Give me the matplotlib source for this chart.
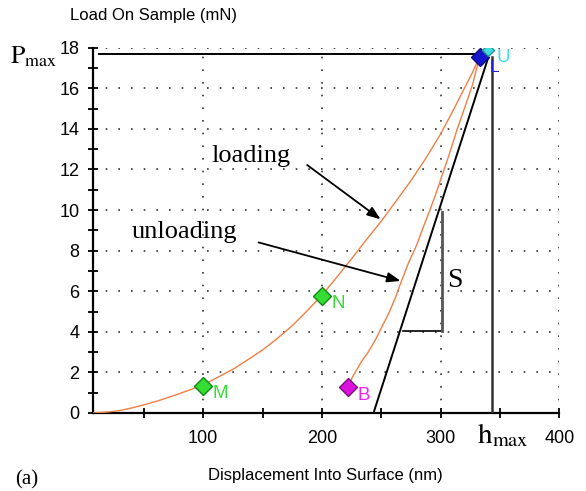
import numpy as np
import matplotlib.pyplot as plt
from matplotlib.ticker import MultipleLocator

plt.rcParams['mathtext.fontset'] = 'stix'

# loading / unloading branches (nm, mN)
loadDepth = [7, 20, 30, 40, 50, 62, 75, 87, 100, 112, 125, 137, 150, 162, 175, 187,
             200, 212, 225, 237, 250, 262, 275, 287, 300, 310, 320, 327, 333]
loadForce = [0.0, 0.05, 0.12, 0.25, 0.4, 0.6, 0.85, 1.1, 1.38, 1.75, 2.15, 2.6, 3.1, 3.65, 4.3, 5.0,
             5.8, 6.65, 7.6, 8.5, 9.45, 10.4, 11.45, 12.5, 13.75, 14.85, 16.0, 16.8, 17.6]
unloadDepth = [222, 226, 233, 239, 245, 251, 257, 262, 267, 273, 280, 285, 291, 296, 300,
               307, 314, 320, 327, 333]
unloadForce = [1.3, 1.8, 2.5, 3.0, 3.6, 4.3, 5.0, 5.7, 6.5, 7.4, 8.3, 9.1, 10.0, 10.8, 11.5,
               12.7, 14.0, 15.0, 16.2, 17.6]

# labelled test points
ptNames = ['M', 'N', 'B']
ptDepth = [100, 200, 222]
ptForce = [1.35, 5.78, 1.27]
ptFace = ['#33dd33', '#33dd33', '#dd11dd']
ptEdge = ['#118811', '#118811', '#771177']
ptText = ['#33dd33', '#33dd33', '#ee22ee']

uDepth, uForce = 333, 17.56      # blue marker 'L'
cDepth, cForce = 340, 17.9       # cyan marker 'U'

Pmax = 17.7
hmax = 343
tangentDepth = [244, 340]
tangentForce = [0.1, 17.5]
sTriDepth = [268, 301, 301]
sTriForce = [4.04, 4.04, 9.9]

fig = plt.figure(figsize=(5.86, 4.91), dpi=100)
ax = fig.add_axes([0.1582, 0.1589, 0.7964, 0.744])

ax.set_xlim(7, 400)
ax.set_ylim(0, 18)
ax.xaxis.set_major_locator(MultipleLocator(100))
ax.xaxis.set_minor_locator(MultipleLocator(50))
ax.yaxis.set_major_locator(MultipleLocator(2))
ax.yaxis.set_minor_locator(MultipleLocator(1))

for s in ['top', 'right']:
    ax.spines[s].set_visible(False)
for s in ['left', 'bottom']:
    ax.spines[s].set_linewidth(1.6)
ax.tick_params(which='both', direction='inout', length=7, width=1.3, color='black')
ax.tick_params(axis='x', pad=9)
ax.tick_params(axis='y', pad=6)
for lab in ax.get_xticklabels() + ax.get_yticklabels():
    lab.set_fontfamily('Liberation Sans')
    lab.set_fontsize(13)

ax.grid(True, which='major', color='#333333', linestyle=(0, (1, 6.6)), linewidth=1.2)
ax.set_axisbelow(True)

# curves
ax.plot(loadDepth, loadForce, color='#f07f45', lw=1.0, zorder=3)
ax.plot(unloadDepth, unloadForce, color='#f07f45', lw=1.0, zorder=3)

# Pmax / hmax guides, tangent and stiffness triangle
ax.plot([12, uDepth], [Pmax, Pmax], color='black', lw=1.4, zorder=3)
ax.plot([hmax, hmax], [0, Pmax - 0.15], color='#333333', lw=1.8, zorder=3)
ax.plot(tangentDepth, tangentForce, color='black', lw=1.4, zorder=3)
ax.plot(sTriDepth[:2], sTriForce[:2], color='black', lw=1.2, zorder=3)
ax.plot(sTriDepth[1:], sTriForce[1:], color='#555555', lw=2.0, zorder=3)

for name, x, y, fc, ec, tc in zip(ptNames, ptDepth, ptForce, ptFace, ptEdge, ptText):
    ax.plot(x, y, marker='D', ms=9.5, mfc=fc, mec=ec, mew=1.0, zorder=5)
    ax.annotate(name, (x, y), xytext=(7, -9), textcoords='offset points',
                color=tc, fontsize=13.5, family='Liberation Sans', zorder=6)

ax.plot(uDepth, uForce, marker='D', ms=9.5, mfc='#1515cc', mec='#0a0a88', zorder=5)
ax.plot(cDepth, cForce, marker='D', ms=6.5, mfc='#44dddd', mec='#229999', zorder=6)
ax.annotate('L', (uDepth, uForce), xytext=(7, -11), textcoords='offset points',
            color='#2222dd', fontsize=12.5, family='Liberation Sans', zorder=6)
ax.annotate('U', (uDepth, uForce), xytext=(12, -4), textcoords='offset points',
            color='#44dddd', fontsize=13.5, family='Liberation Sans', zorder=7)

# annotations
arrowStyle = dict(arrowstyle='-|>,head_length=0.8,head_width=0.3', color='black', lw=1.3)
ax.text(107, 12.36, 'loading', family='Liberation Serif', fontsize=19, va='baseline')
ax.annotate('', xy=(251.3, 9.46), xytext=(185.7, 12.3), arrowprops=arrowStyle)
ax.text(39.7, 8.6, 'unloading', family='Liberation Serif', fontsize=19, va='baseline')
ax.annotate('', xy=(268.5, 6.47), xytext=(144.4, 8.44), arrowprops=arrowStyle)
ax.text(305.2, 6.2, 'S', family='Liberation Serif', fontsize=20, va='baseline')

fig.text(10 / 586, 1 - 63 / 491, r'$\mathrm{P}_{\mathrm{max}}$', fontsize=18.5, va='baseline')
fig.text(477 / 586, 1 - 443 / 491, r'$\mathrm{h}_{\mathrm{max}}$', fontsize=21, va='baseline')
fig.text(70 / 586, 1 - 20 / 491, 'Load On Sample (mN)', family='Liberation Sans', fontsize=12, va='baseline')
fig.text(325 / 586, 1 - 480 / 491, 'Displacement Into Surface (nm)', family='Liberation Sans',
         fontsize=12, ha='center', va='baseline')
fig.text(15 / 586, 1 - 484 / 491, '(a)', family='Liberation Serif', fontsize=15, va='baseline')

fig.savefig('out.png', dpi=100)
